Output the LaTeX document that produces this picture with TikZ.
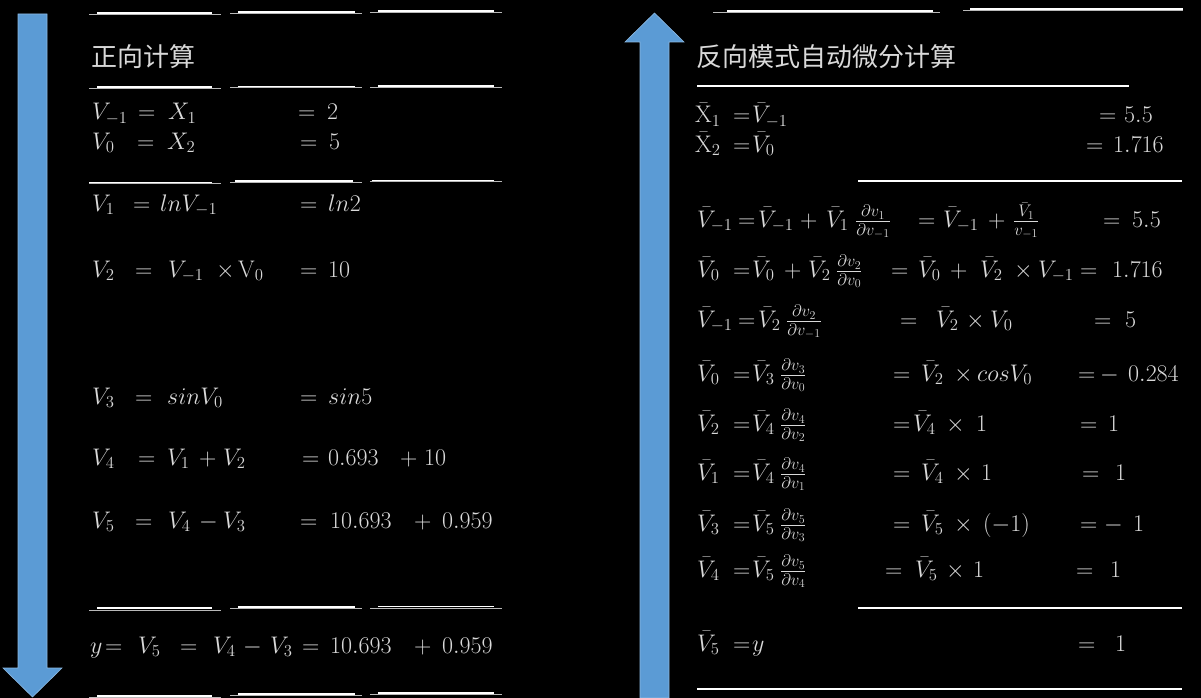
\RequirePackage{fix-cm}
\documentclass[tikz,border=0pt]{standalone}
\usepackage{amsmath}
\usepackage{fontspec}
\newfontfamily\cjk{Noto Sans CJK SC}
\definecolor{arrowblue}{HTML}{5B9BD5}
\definecolor{fg}{gray}{0.85}
\tikzset{
  txt/.style={anchor=base west, inner sep=0pt, text=fg, font=\fontsize{24}{28}\selectfont},
  ttl/.style={anchor=west, inner sep=0pt, text=fg, font=\cjk\fontsize{26}{30}\selectfont},
  rule/.style={white, line width=1.3pt},
  faint/.style={gray!55, line width=0.6pt},
  bigarrow/.style={fill=arrowblue, draw=arrowblue!70!white, line width=0.6pt}
}
\newcommand\putm[4]{\node[txt] (#1) at (#2,#3) {$#4$};}
\begin{document}
\begin{tikzpicture}[x=1pt,y=-1pt]
\fill[black] (0,0) rectangle (1201,698);
\useasboundingbox (0,0) rectangle (1201,698);

% ---------- arrows ----------
\draw[bigarrow] (18,14) -- (47,14) -- (47,668) -- (62,668) -- (32.5,697) -- (3,668) -- (18,668) -- cycle;
\draw[bigarrow] (640,698) -- (640,42) -- (625,42) -- (654.5,13) -- (684,42) -- (669,42) -- (669,698) -- cycle;

% ---------- left rules ----------
\foreach \ya/\yb/\yc in {13/12/11, 87/86.5/86, 182.5/181/180.5, 609/607.5/607, 696/694/693}{
  \draw[faint] (89,\ya+1) -- (221,\ya+1);
  \draw[faint] (230,\yb+1) -- (362,\yb+1);
  \draw[faint] (370,\yc+1) -- (502,\yc+1);
}
\foreach \ya/\yb/\yc in {13/12/11, 87/86.5/86, 608/607/606.5, 696/694/693}{
  \draw[rule] (97,\ya) -- (212,\ya);
  \draw[rule] (238,\yb) -- (355,\yb);
  \draw[rule] (378,\yc) -- (494,\yc);
}
\draw[rule] (89,182.5) -- (212,182.5);
\draw[rule] (235,181) -- (353,181);
\draw[rule] (372,180.5) -- (494,180.5);

% ---------- right rules ----------
\draw[faint] (713,12) -- (940,12);
\draw[faint] (963,10) -- (1183,10);
\draw[rule] (727,11) -- (933,11);
\draw[rule] (970,9) -- (1183,9);
\draw[rule] (697,86) -- (1129,86);
\draw[rule] (858,181) -- (1182,181);
\draw[rule] (858,608) -- (1182,608);
\draw[rule] (697,689) -- (1182,689);

% ---------- left panel ----------
\node[ttl] (ltitle) at (91,57) {正向计算};

\putm{a1}{92}{120}{V_{-1}} \putm{a2}{138}{120}{=} \putm{a3}{168}{120}{X_1} \putm{a4}{298}{120}{=} \putm{a5}{327}{120}{2}
\putm{b1}{92}{149}{V_0} \putm{b2}{137}{149}{=} \putm{b3}{167}{149}{X_2} \putm{b4}{300}{149}{=} \putm{b5}{329}{149}{5}
\putm{c1}{92}{211}{V_1} \putm{c2}{133}{211}{=} \putm{c3}{160}{211}{lnV_{-1}} \putm{c4}{300}{211}{=} \putm{c5}{328}{211}{ln2}
\putm{d1}{92}{277}{V_2} \putm{d2}{135}{277}{=} \putm{d3}{168}{277}{V_{-1}} \putm{d4}{216}{277}{\times} \putm{d5}{238}{277}{\mathrm{V}_0} \putm{d6}{300}{277}{=} \putm{d7}{328}{277}{10}
\putm{e1}{92}{404}{V_3} \putm{e2}{135}{404}{=} \putm{e3}{167}{404}{sinV_0} \putm{e4}{300}{404}{=} \putm{e5}{328}{404}{sin5}
\putm{f1}{92}{465}{V_4} \putm{f2}{138}{465}{=} \putm{f3}{167}{465}{V_1} \putm{f4}{199}{465}{+} \putm{f5}{223}{465}{V_2} \putm{f6}{302}{465}{=} \putm{f7}{328}{465}{0.693} \putm{f8}{400}{465}{+} \putm{f9}{424}{465}{10}
\putm{g1}{92}{528}{V_5} \putm{g2}{135}{528}{=} \putm{g3}{168}{528}{V_4} \putm{g4}{199}{528}{-} \putm{g5}{223}{528}{V_3} \putm{g6}{300}{528}{=} \putm{g7}{330}{528}{10.693} \putm{g8}{414}{528}{+} \putm{g9}{442}{528}{0.959}
\putm{h1}{90}{653}{y} \putm{h2}{105}{653}{=} \putm{h3}{138}{653}{V_5} \putm{h4}{180}{653}{=} \putm{h5}{213}{653}{V_4} \putm{h6}{243}{653}{-} \putm{h7}{270}{653}{V_3} \putm{h8}{302}{653}{=} \putm{h9}{330}{653}{10.693} \putm{h10}{414}{653}{+} \putm{h11}{442}{653}{0.959}

% ---------- right panel ----------
\node[ttl] (rtitle) at (696,57) {反向模式自动微分计算};

\putm{p1}{695}{123}{\bar{\mathrm{X}}_1} \putm{p2}{733}{123}{=} \putm{p3}{752}{123}{\bar{V}_{-1}} \putm{p4}{1099}{123}{=} \putm{p5}{1124}{123}{5.5}
\putm{q1}{695}{152}{\bar{\mathrm{X}}_2} \putm{q2}{733}{152}{=} \putm{q3}{752}{152}{\bar{V}_0} \putm{q4}{1086}{152}{=} \putm{q5}{1113}{152}{1.716}

\putm{r1}{697}{227}{\bar{V}_{-1}} \putm{r2}{738}{227}{=} \putm{r3}{758}{227}{\bar{V}_{-1}} \putm{r4}{800}{227}{+} \putm{r5}{826}{227}{\bar{V}_1}
\putm{r6}{855}{227}{\frac{\partial v_1}{\partial v_{-1}}} \putm{r7}{918}{227}{=} \putm{r8}{943}{227}{\bar{V}_{-1}} \putm{r9}{988}{227}{+} \putm{r10}{1013}{227}{\frac{\bar{V}_1}{v_{-1}}} \putm{r11}{1103}{227}{=} \putm{r12}{1132}{227}{5.5}

\putm{s1}{697}{277}{\bar{V}_0} \putm{s2}{733}{277}{=} \putm{s3}{752}{277}{\bar{V}_0} \putm{s4}{784}{277}{+} \putm{s5}{808}{277}{\bar{V}_2}
\putm{s6}{836}{277}{\frac{\partial v_2}{\partial v_0}} \putm{s7}{891}{277}{=} \putm{s8}{918}{277}{\bar{V}_0} \putm{s9}{950}{277}{+} \putm{s10}{980}{277}{\bar{V}_2} \putm{s11}{1014}{277}{\times} \putm{s12}{1038}{277}{V_{-1}} \putm{s13}{1080}{277}{=} \putm{s14}{1112}{277}{1.716}

\putm{t1}{697}{327}{\bar{V}_{-1}} \putm{t2}{738}{327}{=} \putm{t3}{758}{327}{\bar{V}_2}
\putm{t4}{786}{327}{\frac{\partial v_2}{\partial v_{-1}}} \putm{t5}{900}{327}{=} \putm{t6}{936}{327}{\bar{V}_2} \putm{t7}{966}{327}{\times} \putm{t8}{990}{327}{V_0} \putm{t9}{1094}{327}{=} \putm{t10}{1125}{327}{5}

\putm{u1}{697}{381}{\bar{V}_0} \putm{u2}{733}{381}{=} \putm{u3}{752}{381}{\bar{V}_3}
\putm{u4}{780}{381}{\frac{\partial v_3}{\partial v_0}} \putm{u5}{893}{381}{=} \putm{u6}{921}{381}{\bar{V}_2} \putm{u7}{954}{381}{\times} \putm{u8}{977}{381}{cosV_0} \putm{u9}{1078}{381}{=} \putm{u10}{1100}{381}{-} \putm{u11}{1128}{381}{0.284}

\putm{v1}{697}{431}{\bar{V}_2} \putm{v2}{733}{431}{=} \putm{v3}{752}{431}{\bar{V}_4}
\putm{v4}{780}{431}{\frac{\partial v_4}{\partial v_2}} \putm{v5}{893}{431}{=} \putm{v6}{913}{431}{\bar{V}_4} \putm{v7}{946}{431}{\times} \putm{v8}{976}{431}{1} \putm{v9}{1080}{431}{=} \putm{v10}{1108}{431}{1}

\putm{w1}{697}{480}{\bar{V}_1} \putm{w2}{733}{480}{=} \putm{w3}{752}{480}{\bar{V}_4}
\putm{w4}{780}{480}{\frac{\partial v_4}{\partial v_1}} \putm{w5}{893}{480}{=} \putm{w6}{921}{480}{\bar{V}_4} \putm{w7}{954}{480}{\times} \putm{w8}{981}{480}{1} \putm{w9}{1082}{480}{=} \putm{w10}{1115}{480}{1}

\putm{x1}{697}{531}{\bar{V}_3} \putm{x2}{733}{531}{=} \putm{x3}{752}{531}{\bar{V}_5}
\putm{x4}{780}{531}{\frac{\partial v_5}{\partial v_3}} \putm{x5}{893}{531}{=} \putm{x6}{921}{531}{\bar{V}_5} \putm{x7}{954}{531}{\times} \putm{x8}{983}{531}{(-1)} \putm{x9}{1080}{531}{=} \putm{x10}{1104}{531}{-} \putm{x11}{1133}{531}{1}

\putm{z1}{697}{577}{\bar{V}_4} \putm{z2}{733}{577}{=} \putm{z3}{752}{577}{\bar{V}_5}
\putm{z4}{780}{577}{\frac{\partial v_5}{\partial v_4}} \putm{z5}{885}{577}{=} \putm{z6}{915}{577}{\bar{V}_5} \putm{z7}{946}{577}{\times} \putm{z8}{973}{577}{1} \putm{z9}{1076}{577}{=} \putm{z10}{1110}{577}{1}

\putm{o1}{697}{651}{\bar{V}_5} \putm{o2}{733}{651}{=} \putm{o3}{752}{651}{y} \putm{o4}{1078}{651}{=} \putm{o5}{1115}{651}{1}
\end{tikzpicture}
\end{document}
